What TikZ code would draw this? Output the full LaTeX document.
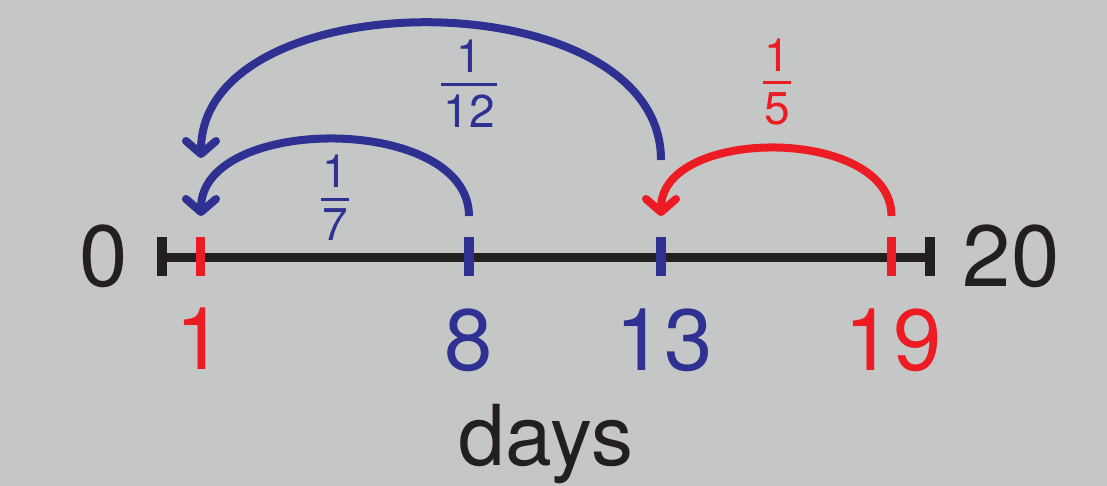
\documentclass[tikz,border=0pt]{standalone}
\usepackage{fontspec}
\setmainfont{TeX Gyre Heros}
\usetikzlibrary{arrows.meta}
\definecolor{bg}{HTML}{C5C7C6}
\definecolor{myblue}{HTML}{2E3192}
\definecolor{myred}{HTML}{ED1C24}
\definecolor{myblack}{HTML}{231F20}
\tikzset{
  tickmark/.style={line width=9.5pt},
  arc/.style={line width=8pt, -{Straight Barb[length=13pt,width=30pt,round]}},
  big/.style={inner sep=0pt, font=\fontsize{87}{87}\selectfont},
  frac/.style={inner sep=0pt, font=\fontsize{46}{46}\selectfont},
  fracbar/.style={line width=3pt},
}
\begin{document}
\begin{tikzpicture}[x=1pt,y=-1pt]
\fill[bg] (0,0) rectangle (1107,486);
\useasboundingbox (0,0) rectangle (1107,486);
% axis
\coordinate (a0) at (162,257);
\coordinate (a20) at (930,257);
\draw[myblack, line width=9pt] (a0) -- (a20);
\draw[myblack, tickmark] (162,237) -- (162,276);
\draw[myblack, tickmark] (930,237) -- (930,276);
\draw[myred, tickmark] (200.5,237) -- (200.5,276);
\draw[myblue, tickmark] (469,237) -- (469,276);
\draw[myblue, tickmark] (661,237) -- (661,276);
\draw[myred, tickmark] (891.5,237) -- (891.5,276);
% arc endpoints
\coordinate (o13) at (661,160);
\coordinate (o1) at (201,158);
\coordinate (i8) at (469,216);
\coordinate (i1) at (201,216);
\coordinate (r19) at (891.5,216);
\coordinate (r13) at (661,216);
% arcs
\draw[myblue, arc] (o13) .. controls (661,-22) and (201,-22) .. (o1);
\draw[myblue, arc] (i8) .. controls (469,114) and (201,114) .. (i1);
\draw[myred, arc] (r19) .. controls (891.5,126) and (661,126) .. (r13);
% labels
\node[big, myblack] (l0) at (104,256.5) {0};
\node[big, myblack] (l20) at (1011,256.5) {20};
\node[big, myred] (l1) at (200,339) {1};
\node[big, myblue] (l8) at (469,340) {8};
\node[big, myblue] (l13) at (664,340) {13};
\node[big, myred] (l19) at (893,340) {19};
\node[inner sep=0pt, font=\fontsize{84}{84}\selectfont, myblack, anchor=base] (days) at (546,465) {days};
% fractions
\node[frac, myblue] (n12) at (469,56.5) {1};
\draw[myblue, fracbar] (441,85) -- (497,85);
\node[frac, myblue] (d12) at (469,111.5) {12};
\node[frac, myblue] (n7) at (335,171) {1};
\draw[myblue, fracbar] (321,200) -- (349,200);
\node[frac, myblue] (d7) at (335,225) {7};
\node[frac, myred] (n5) at (777,55.5) {1};
\draw[myred, fracbar] (763,83) -- (791,83);
\node[frac, myred] (d5) at (777,109) {5};
\end{tikzpicture}
\end{document}
